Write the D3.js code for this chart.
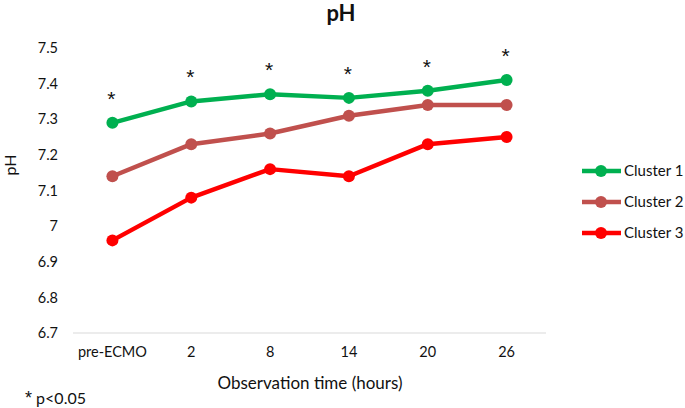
<!DOCTYPE html>
<html><head><meta charset="utf-8">
<script src="https://cdn.jsdelivr.net/npm/d3@7"></script>
<style>body{margin:0;background:#fff}svg{display:block;font-family:Lato,"Open Sans",sans-serif}</style>
</head><body><svg id="c" width="685" height="408"></svg>
<script>
const categories = ["pre-ECMO","2","8","14","20","26"];
const cluster1 = [7.29,7.35,7.37,7.36,7.38,7.41];
const cluster2 = [7.14,7.23,7.26,7.31,7.34,7.34];
const cluster3 = [6.96,7.08,7.16,7.14,7.23,7.25];
const yTicks = [6.7,6.8,6.9,7,7.1,7.2,7.3,7.4,7.5];
const seriesNames = ["Cluster 1","Cluster 2","Cluster 3"];
const colors = ["#00B050","#C0504D","#FF0000"];
const signif = [true,true,true,true,true,true];

const svg = d3.select("#c");
const x = d3.scaleBand().domain(categories).range([73,546]);
const y = d3.scaleLinear().domain([6.7,7.5]).range([333,48]);
const cx = d => x(d) + x.bandwidth()/2;

// baseline
svg.append("line").attr("x1",73).attr("x2",546).attr("y1",y(6.7)).attr("y2",y(6.7))
  .attr("stroke","#d9d9d9").attr("stroke-width",1);

// y tick labels
const yAxis = d3.axisLeft(y).tickValues(yTicks).tickSize(0).tickPadding(0).tickFormat(d=>String(d));
const ya = svg.append("g").attr("transform","translate(58,0)").call(yAxis);
ya.select(".domain").remove();
ya.selectAll("text").attr("font-size",14.5).attr("fill","#111").attr("font-family","Lato,sans-serif");

// x tick labels
const xAxis = d3.axisBottom(x).tickSize(0).tickPadding(0);
const xa = svg.append("g").attr("transform","translate(0,347)").call(xAxis);
xa.select(".domain").remove();
xa.selectAll("text").attr("font-size",14.5).attr("fill","#111").attr("font-family","Lato,sans-serif");

const data = [cluster1,cluster2,cluster3];
const line = d3.line().x((d,i)=>cx(categories[i])).y(d=>y(d));
data.forEach((s,k)=>{
  svg.append("path").datum(s).attr("d",line).attr("fill","none")
    .attr("stroke",colors[k]).attr("stroke-width",4.5).attr("stroke-linejoin","round");
  svg.selectAll(".m"+k).data(s).enter().append("circle")
    .attr("cx",(d,i)=>cx(categories[i])).attr("cy",d=>y(d)).attr("r",6).attr("fill",colors[k]);
});

// asterisks
svg.selectAll(".ast").data(cluster1).enter().append("text")
  .attr("x",(d,i)=>cx(categories[i])-1).attr("y",d=>y(d)-17)
  .attr("text-anchor","middle").attr("font-size",21).attr("fill","#111")
  .attr("font-family","'Liberation Sans',Arial,sans-serif")
  .text((d,i)=>signif[i]?"*":"");

// title
svg.append("text").attr("x",341).attr("y",21).attr("text-anchor","middle")
  .attr("font-size",22).attr("font-weight","bold").attr("fill","#111").text("pH");
// y title
svg.append("text").attr("transform","translate(16,165) rotate(-90)").attr("text-anchor","middle")
  .attr("font-size",16).attr("fill","#111").text("pH");
// x title
svg.append("text").attr("x",310).attr("y",389).attr("text-anchor","middle")
  .attr("font-size",17).attr("fill","#111").text("Observation time (hours)");
// footnote
const fn = svg.append("text").attr("x",25).attr("y",404).attr("font-size",16).attr("fill","#111");
fn.append("tspan").attr("font-family","'Liberation Sans',Arial,sans-serif").attr("font-size",18).text("*");
fn.append("tspan").text(" p<0.05");

// legend
const lg = svg.append("g");
seriesNames.forEach((n,k)=>{
  const yy = 171 + k*31;
  lg.append("line").attr("x1",582).attr("x2",621).attr("y1",yy).attr("y2",yy)
    .attr("stroke",colors[k]).attr("stroke-width",4.5);
  lg.append("circle").attr("cx",601).attr("cy",yy).attr("r",6).attr("fill",colors[k]);
  lg.append("text").attr("x",624).attr("y",yy+5).attr("font-size",15).attr("fill","#111").text(n);
});
</script></body></html>
